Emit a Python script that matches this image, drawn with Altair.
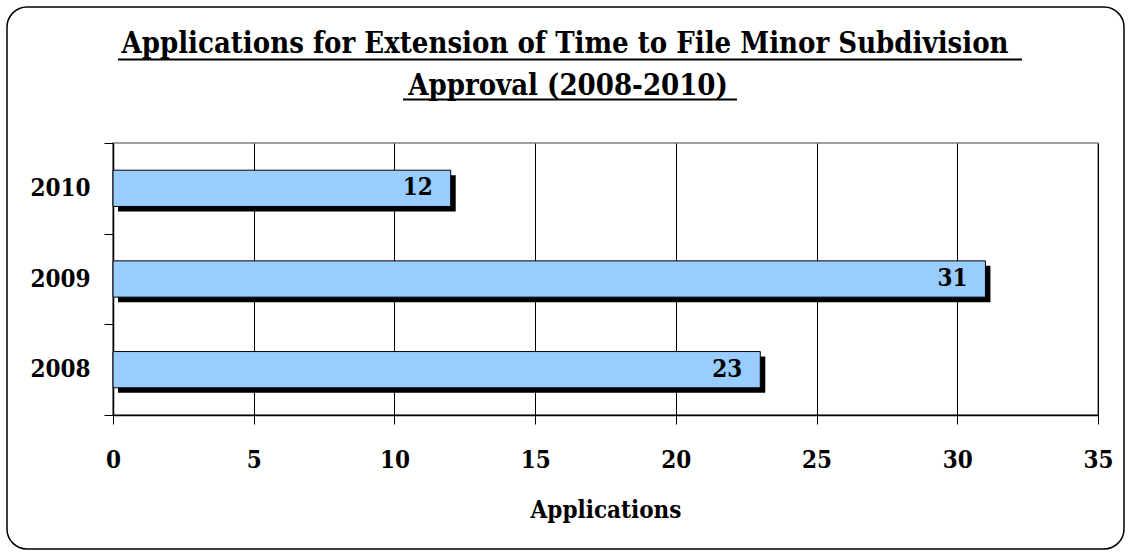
import altair as alt
import pandas as pd

years = ["2008", "2009", "2010"]
applications = [23, 31, 12]
year_order = ["2010", "2009", "2008"]
title_lines = ["Applications for Extension of Time to File Minor Subdivision", "Approval (2008-2010)"]
x_ticks = [0, 5, 10, 15, 20, 25, 30, 35]
axis_title = "Applications"

FONT = "DejaVu Serif Condensed"
df = pd.DataFrame({"year": years, "applications": applications})

W, H = 985, 272

x_enc = alt.X(
    "applications:Q",
    scale=alt.Scale(domain=[0, 35], nice=False),
    axis=alt.Axis(
        values=x_ticks, title=axis_title, grid=True, gridColor="#000000", gridWidth=1,
        tickSize=9, tickColor="#000000", domainColor="#000000", domainWidth=1.5,
        labelFlush=False,
        labelFont=FONT, labelFontWeight="bold", labelFontSize=24, labelColor="#000000",
        labelBaseline="alphabetic", labelPadding=43,
        titleFont=FONT, titleFontWeight="bold", titleFontSize=24, titleColor="#000000",
        titleBaseline="alphabetic", titleY=102,
    ),
)
y_enc = alt.Y(
    "year:N",
    sort=year_order,
    scale=alt.Scale(paddingInner=0, paddingOuter=0),
    axis=alt.Axis(
        title=None, tickBand="extent", tickSize=9, tickColor="#000000",
        domainColor="#000000", domainWidth=1.5,
        labelFont=FONT, labelFontWeight="bold", labelFontSize=24, labelColor="#000000",
        labelPadding=14, labelAlign="right",
    ),
)

base = alt.Chart(df)

shadow = base.mark_bar(color="#000000", xOffset=5, yOffset=5, height={"band": 0.4}).encode(x=x_enc, y=y_enc)
bars = base.mark_bar(color="#99CCFF", stroke="#000000", strokeWidth=1, height={"band": 0.4}).encode(x=x_enc, y=y_enc)
labels = base.mark_text(
    align="right", baseline="middle", dx=-18, font=FONT, fontWeight="bold",
    fontSize=24, color="#000000",
).encode(x=x_enc, y=y_enc, text="applications:Q")

border = alt.Chart(pd.DataFrame({"k": [0]})).mark_rect(
    cornerRadius=20, fillOpacity=0, stroke="#000000", strokeWidth=1.5
).encode(x=alt.value(-106), x2=alt.value(1011), y=alt.value(-136), y2=alt.value(406))

tdf = pd.DataFrame({"line": title_lines, "i": [0, 1]})
title1 = alt.Chart(tdf.iloc[[0]]).mark_text(
    align="center", baseline="alphabetic", font=FONT, fontWeight="bold", fontSize=29, color="#000000"
).encode(text="line:N", x=alt.value(452), y=alt.value(-90))
title2 = alt.Chart(tdf.iloc[[1]]).mark_text(
    align="center", baseline="alphabetic", font=FONT, fontWeight="bold", fontSize=29, color="#000000"
).encode(text="line:N", x=alt.value(455), y=alt.value(-48))
ul1 = alt.Chart(pd.DataFrame({"k": [0]})).mark_rule(color="#000000", strokeWidth=2).encode(
    x=alt.value(5), x2=alt.value(909), y=alt.value(-83.5))
ul2 = alt.Chart(pd.DataFrame({"k": [0]})).mark_rule(color="#000000", strokeWidth=2).encode(
    x=alt.value(290), x2=alt.value(624), y=alt.value(-43.5))

chart = alt.layer(border, shadow, bars, labels, title1, title2, ul1, ul2).properties(
    width=W, height=H,
    autosize=alt.AutoSizeParams(type="none"),
    padding={"left": 113, "top": 143, "right": 34, "bottom": 137},
    background="#ffffff",
).configure_view(stroke="#808080", strokeWidth=1.5)

chart.save("out.html", embed_options={"renderer": "svg", "actions": False})
